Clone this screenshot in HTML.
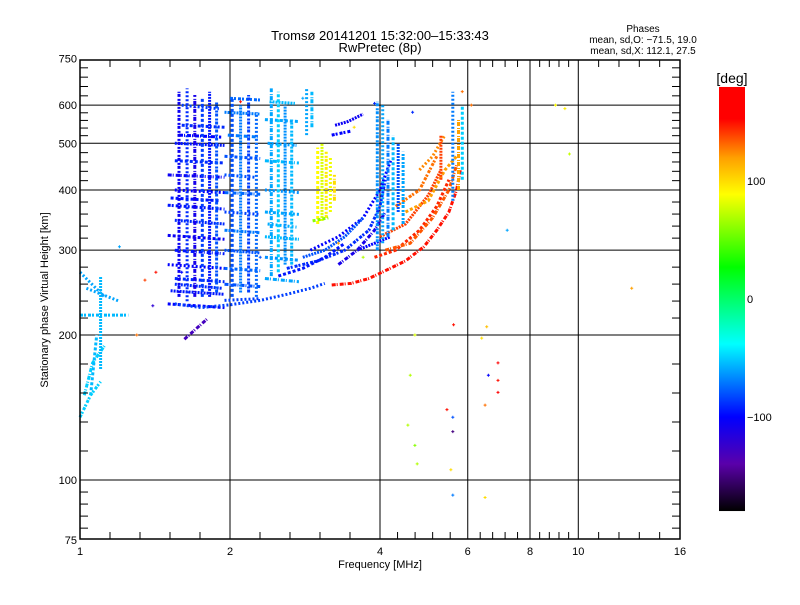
<!DOCTYPE html>
<html><head><meta charset="utf-8"><style>
body{margin:0;background:#fff;}
svg text{font-family:"Liberation Sans",sans-serif;fill:#000;}
</style></head><body>
<svg id="chart" width="800" height="600" viewBox="0 0 800 600" xmlns="http://www.w3.org/2000/svg">
<rect width="800" height="600" fill="#fff"/>
<text x="380" y="40" font-size="13" text-anchor="middle">Tromsø 20141201 15:32:00–15:33:43</text>
<text x="380" y="52" font-size="13" text-anchor="middle">RwPretec (8p)</text>
<text x="643" y="32" font-size="10" text-anchor="middle">Phases</text>
<text x="643" y="43" font-size="10" text-anchor="middle">mean, sd,O: −71.5, 19.0</text>
<text x="643" y="54" font-size="10" text-anchor="middle">mean, sd,X: 112.1, 27.5</text>
<text transform="translate(48,300) rotate(-90)" font-size="11" text-anchor="middle">Stationary phase Virtual Height [km]</text>
<text x="380" y="568" font-size="11" text-anchor="middle">Frequency [MHz]</text>
<g id="grid"></g>
<g id="marks"></g>
<g id="axes"></g>
<g id="cbar"></g>
</svg>
<script>
// ---- data ----
const xMajorTicks = [1, 2, 4, 6, 8, 10, 16];
const yMajorTicks = [75, 100, 200, 300, 400, 500, 600, 750];
const cbarTicks = [100, 0, -100];
const cbarTickLabels = ["100", "0", "−100"];
const traceFreqs = [
 // column A stripes
 [1.5,1.95],[1.52,1.95],[1.55,1.95],[1.5,1.95],[1.55,1.95],[1.5,1.95],[1.55,1.95],[1.5,1.95],[1.55,1.95],[1.5,1.95],[1.55,1.95],[1.55,1.95],[1.6,1.95],[1.6,1.9],[1.58,1.92],[1.52,1.9],[1.55,1.93],
 // column A verticals
 [1.58,1.58],[1.64,1.64],[1.7,1.7],[1.76,1.76],[1.82,1.82],[1.88,1.88],
 // column B stripes
 [1.95,2.3],[1.95,2.3],[1.95,2.3],[1.95,2.3],[1.95,2.3],[1.95,2.3],[1.95,2.3],[1.95,2.3],[1.95,2.3],[2.0,2.3],[1.95,2.25],[1.98,2.28],
 [2.02,2.02],[2.1,2.1],[2.18,2.18],[2.26,2.26],
 // column C
 [2.35,2.75],[2.35,2.75],[2.35,2.75],[2.35,2.75],[2.35,2.75],[2.35,2.75],[2.35,2.75],[2.4,2.7],[2.38,2.72],[2.38,2.72],
 [2.42,2.42],[2.5,2.5],[2.58,2.58],[2.66,2.66],
 // column D
 [2.85,2.85],[2.92,2.92],
 // yellow column
 [3.0,3.0],[3.06,3.06],[3.12,3.12],[3.18,3.18],[3.24,3.24],[2.93,3.15],
 // top blue streak
 [3.25,3.45,3.7],[3.2,3.5],
 // O lower envelope
 [1.55,1.75,2.0,2.3,2.6,2.9,3.1],
 // X main trace
 [3.2,3.5,3.8,4.1,4.5,4.9,5.2,5.5,5.7,5.8],
 [3.9,4.3,4.8,5.2,5.5],[4.0,4.5,5.0,5.3],[4.3,4.8,5.2],[4.8,5.1,5.4],[4.1,4.6,5.1,5.5,5.7],[4.5,5.0,5.4,5.7],[3.6,3.9,4.2],
 // O multi traces
 [2.6,3.0,3.4,3.8,4.0,4.1],[2.9,3.3,3.7,4.0,4.2],[3.3,3.6,3.9,4.1],[2.5,2.8,3.1,3.4],[2.8,3.1,3.4,3.7],
 // column E
 [3.95,3.95],[4.05,4.05],[4.15,4.15],[4.25,4.25],[4.35,4.35],[4.45,4.45],
 // column F
 [5.6,5.6],[5.75,5.75],[5.85,5.85],[5.3,5.3],
 // left cluster
 [1.0,1.25],[1.0,1.12],[1.02,1.06,1.12],[1.05,1.08],[1.1,1.1],[1.0,1.05,1.1],[1.03,1.2],
 // bottom purple blob
 [1.62,1.8]
];
const traceHeights = [
 [232,228],[247,243],[262,258],[280,275],[300,295],[322,316],[346,340],[372,365],[400,395],[430,425],[460,455],[500,495],[545,540],[600,590],[520,515],[385,380],[255,250],
 [240,640],[235,650],[240,630],[240,620],[240,640],[245,610],
 [236,238],[255,252],[275,272],[300,296],[330,326],[360,356],[395,392],[470,465],[580,575],[620,615],[430,425],[520,515],
 [240,620],[245,600],[245,630],[240,580],
 [262,258],[290,286],[320,316],[360,356],[400,395],[460,455],[560,555],[610,605],[500,495],[340,335],
 [265,650],[270,640],[280,600],[280,560],
 [520,650],[540,640],
 [340,490],[345,500],[350,480],[360,470],[380,430],[345,350],
 [545,555,575],[520,530],
 [232,228,231,236,243,250,256],
 [254,256,262,272,285,305,330,360,400,440],
 [290,300,330,370,420],[320,340,390,440],[370,400,470],[440,470,520],[300,310,350,400,450],[360,380,440,470],[300,310,320],
 [275,285,300,330,370,420],[300,320,350,400,460],[280,300,330,360],[265,275,290,310],[290,300,320,350],
 [300,610],[310,600],[320,560],[330,520],[360,500],[340,480],
 [380,640],[400,560],[420,600],[420,520],
 [220,220],[270,240],[150,175,190],[150,200],[170,265],[135,150,160],[250,235],
 [196,216]
];
const tracePhases = [
 -100,-95,-90,-100,-95,-105,-90,-95,-100,-105,-90,-95,-90,-85,-100,-95,-90,
 -105,-90,-110,-85,-95,-80,
 -85,-80,-75,-80,-70,-85,-75,-80,-70,-75,-80,-70,
 -80,-70,-85,-75,
 -60,-65,-55,-60,-65,-55,-60,-55,-62,-58,
 -60,-50,-65,-55,
 -60,-55,
 90,80,95,85,100,60,
 -105,-100,
 -85,
 150,
 145,140,130,125,135,120,-100,
 -90,-100,-110,-95,-80,
 -65,-60,-70,-55,-80,-60,
 -70,120,-50,140,
 -55,-60,-50,-55,-55,-50,-60,
 -130
];
const scatterFreqs = [1.2,1.35,1.42,1.3,2.3,2.1,3.55,3.9,4.7,4.7,4.75,5.45,5.6,5.6,5.55,5.62,6.4,6.6,6.9,6.9,6.9,6.5,6.55,6.1,7.2,9.4,9.6,12.8,9.0,5.85,5.6,6.5,4.6,4.55,4.65,1.4,1.6,3.7,3.3,2.8];
const scatterHeights = [305,260,270,200,290,610,540,605,200,118,108,140,126,135,105,210,197,165,175,161,152,143,208,600,330,590,475,250,600,640,93,92,165,130,580,230,270,290,310,620];
const scatterPhases = [-60,140,150,130,-80,150,100,-90,80,60,70,150,-150,-80,100,150,100,-100,160,150,155,130,110,130,-60,95,75,120,90,130,-70,100,70,70,-90,-120,-100,70,120,-60];
const dashes = ['3 2','2 1','3 1 2 2','2 2','4 1 1 2'];

// ---- axes ----
const L=80,R=680,T=60,B=539;
const xs = f => L + 150*Math.log2(f);
const ys = h => 480 - 481.7*Math.log10(h/100);
const NS='http://www.w3.org/2000/svg';
function mk(tag, attrs, parent){const e=document.createElementNS(NS,tag);for(const k in attrs)e.setAttribute(k,attrs[k]);parent.appendChild(e);return e;}
const stops=[[-180,0,0,0],[-140,90,0,170],[-100,0,0,255],[-38,0,255,255],[27,0,255,0],[89,255,255,0],[120,255,160,0],[153,255,0,0],[180,255,0,0]];
function color(p){p=Math.max(-180,Math.min(180,p));for(let i=1;i<stops.length;i++){if(p<=stops[i][0]){const a=stops[i-1],b=stops[i],t=(p-a[0])/(b[0]-a[0]);return `rgb(${Math.round(a[1]+t*(b[1]-a[1]))},${Math.round(a[2]+t*(b[2]-a[2]))},${Math.round(a[3]+t*(b[3]-a[3]))})`;}}return 'red';}

const grid=document.getElementById('grid'), axes=document.getElementById('axes'), marks=document.getElementById('marks'), cbar=document.getElementById('cbar');
xMajorTicks.slice(1,-1).forEach(f=>{
  const l=mk('line',{x1:xs(f),x2:xs(f),y1:T,y2:B,stroke:'#000','stroke-width':1},grid);
  
  
});
yMajorTicks.slice(1,-1).forEach(h=>{
  const l=mk('line',{x1:L,x2:R,y1:ys(h),y2:ys(h),stroke:'#000','stroke-width':1},grid);
  
  
});
for(let i=0;i<xMajorTicks.length-1;i++){
  const a=xs(xMajorTicks[i]),b=xs(xMajorTicks[i+1]);
  for(let k=1;k<5;k++){const x=a+(b-a)*k/5;
    mk('line',{x1:x,x2:x,y1:B,y2:B-7,stroke:'#000'},axes);
    mk('line',{x1:x,x2:x,y1:T,y2:T+7,stroke:'#000'},axes);}
}
for(let i=0;i<yMajorTicks.length-1;i++){
  const a=ys(yMajorTicks[i]),b=ys(yMajorTicks[i+1]);
  for(let k=1;k<5;k++){const y=a+(b-a)*k/5;
    mk('line',{x1:L,x2:L+8,y1:y,y2:y,stroke:'#000'},axes);
    mk('line',{x1:R,x2:R-8,y1:y,y2:y,stroke:'#000'},axes);}
}
xMajorTicks.forEach(f=>{
  const t=mk('text',{x:xs(f),y:B+16,'font-size':11,'text-anchor':'middle'},axes);
  t.textContent=String(f);
  
  
});
yMajorTicks.forEach(h=>{
  const t=mk('text',{x:L-3,y:ys(h)+4,'font-size':11,'text-anchor':'end'},axes);
  t.textContent=String(h);
  
  
});
const frame=mk('rect',{x:L,y:T,width:R-L,height:B-T,fill:'none',stroke:'#000','stroke-width':1.5},axes);



for(let i=0;i<traceFreqs.length;i++){
  const pts=traceFreqs[i].map((f,j)=>xs(f).toFixed(1)+','+ys(traceHeights[i][j]).toFixed(1)).join(' ');
  const pl=mk('polyline',{points:pts,fill:'none',stroke:color(tracePhases[i]),'stroke-width':3,'stroke-dasharray':dashes[i%dashes.length]},marks);
  
  
}
for(let i=0;i<scatterFreqs.length;i++){
  const x=xs(scatterFreqs[i]),y=ys(scatterHeights[i]),c=color(scatterPhases[i]);
  const p=mk('path',{d:`M${x-1.5},${y}h3M${x},${y-1.5}v3`,stroke:c,'stroke-width':1},marks);
  
  
}

// colorbar
const cy=p=>299-1.178*p;
const defs=mk('defs',{},cbar);
const g=mk('linearGradient',{id:'cg',x1:0,y1:0,x2:0,y2:1},defs);
for(let i=stops.length-1;i>=0;i--){const s=stops[i];
  mk('stop',{offset:((cy(s[0])-cy(180))/(cy(-180)-cy(180))).toFixed(3),'stop-color':`rgb(${s[1]},${s[2]},${s[3]})`},g);}
const cr=mk('rect',{x:719,y:cy(180),width:26,height:cy(-180)-cy(180),fill:'url(#cg)'},cbar);


cbarTicks.forEach((p,i)=>{
  const t=mk('text',{x:747,y:cy(p)+4,'font-size':11},cbar);
  t.textContent=cbarTickLabels[i];
  
  
});
const du=mk('text',{x:732,y:83,'font-size':14,'text-anchor':'middle'},cbar);
du.textContent='[deg]';


</script>
</body></html>
